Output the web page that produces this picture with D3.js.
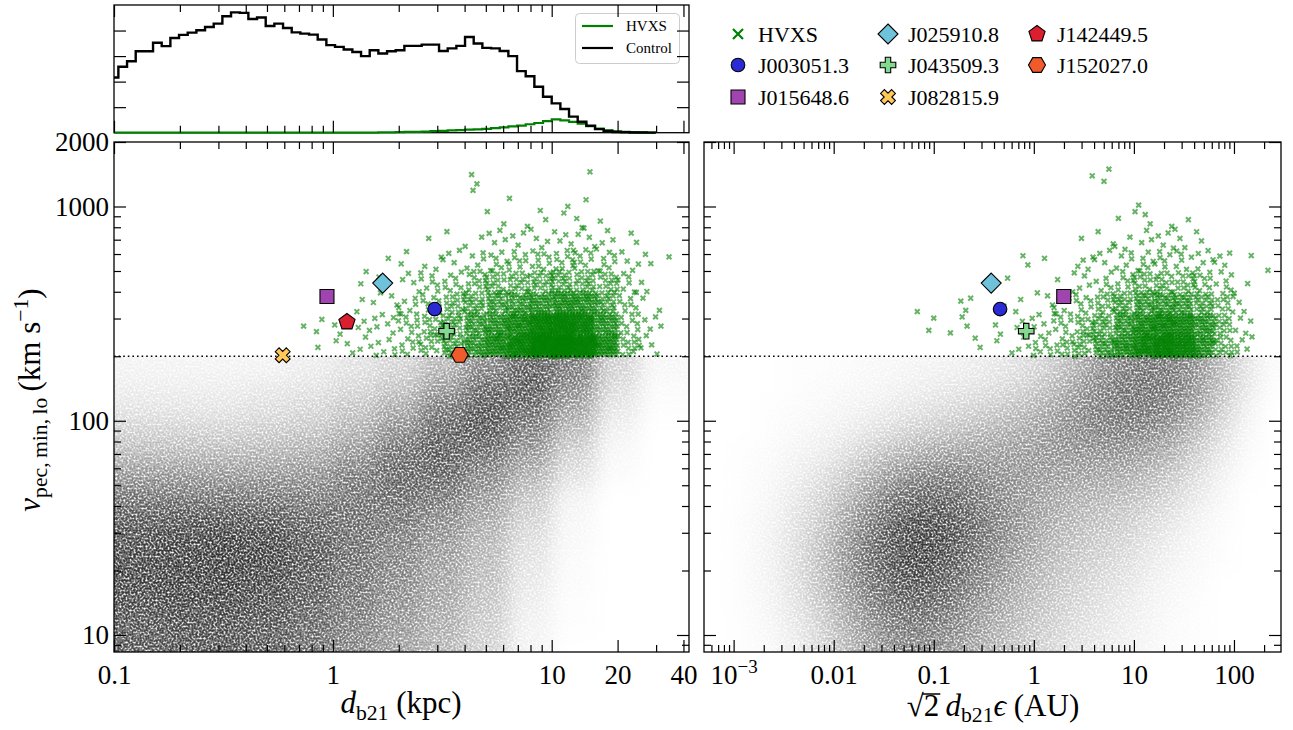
<!DOCTYPE html>
<html>
<head>
<meta charset="utf-8">
<script src="https://cdn.jsdelivr.net/npm/d3@7"></script>
<style>
  body { margin: 0; background: #fff; }
  text { font-family: "Liberation Serif", "Times New Roman", serif; fill: #000; }
</style>
</head>
<body>
<svg id="fig" width="1293" height="730" font-family="Liberation Serif, Times New Roman, serif"></svg>
<script>
// ---------- values ----------

// top histogram: log10 bin start / width, heights in axis units
const histStart = -1.0196, histWidth = 0.0396;
const controlHist = [2.16,2.58,2.80,3.19,3.19,3.52,3.39,3.71,3.83,3.92,4.01,
  4.14,4.27,4.56,4.71,4.69,4.45,4.51,4.18,4.27,4.10,
  3.93,3.88,3.84,3.65,3.43,3.36,3.26,3.16,3.00,3.23,
  3.10,3.19,3.23,3.40,3.40,3.45,3.45,3.20,3.30,3.40,
  3.75,3.49,3.32,3.30,3.20,3.00,2.41,2.21,1.80,1.41,
  1.15,0.93,0.63,0.43,0.27,0.14,0.07,0.03,0.015,0.01,0.005,0.003];
const hvxsHist = [0,0,0,0,0,0,0,0,0,0,0,0,0,0,0,0,0,0,0,0,0,0,0,0,0,0,0,0,0,0,
  0.005,0.01,0.015,0.02,0.03,0.035,0.045,0.06,0.075,0.09,0.10,
  0.12,0.13,0.15,0.18,0.21,0.25,0.28,0.33,0.38,0.45,
  0.52,0.48,0.42,0.35,0.26,0.16,0.09,0.05,0.03,0.02,0.01,0.005];

// grey control cloud: density per cell (log10 edges), rows from top
const grayRows = [2.3,2.2,2.1,2.0,1.9,1.8,1.7,1.6,1.5,1.4,1.3,1.2,1.1,1.0,0.9];
const leftGrayCols = [-1.0,-0.8,-0.6,-0.4,-0.2,0,0.2,0.4,0.6,0.8,1.0,1.2,1.4,1.6];
const leftGray = [
  [0.05,0.05,0.05,0.05,0.08,0.12,0.18,0.3,0.5,0.68,0.58,0.2,0.04],
  [0.08,0.08,0.08,0.1,0.12,0.18,0.26,0.44,0.66,0.72,0.5,0.15,0.02],
  [0.12,0.12,0.12,0.15,0.18,0.26,0.38,0.6,0.74,0.64,0.4,0.1,0.01],
  [0.2,0.2,0.2,0.22,0.25,0.34,0.5,0.68,0.72,0.55,0.3,0.06,0],
  [0.3,0.3,0.3,0.32,0.36,0.45,0.62,0.7,0.62,0.45,0.2,0.03,0],
  [0.44,0.44,0.44,0.44,0.46,0.56,0.66,0.66,0.52,0.35,0.14,0.02,0],
  [0.58,0.58,0.58,0.58,0.56,0.6,0.64,0.6,0.45,0.25,0.06,0,0],
  [0.7,0.72,0.72,0.7,0.65,0.62,0.6,0.5,0.38,0.2,0.04,0,0],
  [0.75,0.78,0.8,0.78,0.7,0.62,0.55,0.45,0.32,0.15,0.03,0,0],
  [0.78,0.8,0.82,0.8,0.72,0.62,0.52,0.42,0.3,0.12,0.02,0,0],
  [0.78,0.8,0.8,0.78,0.7,0.6,0.5,0.4,0.28,0.1,0.02,0,0],
  [0.75,0.78,0.78,0.75,0.68,0.58,0.48,0.38,0.25,0.08,0.01,0,0],
  [0.72,0.75,0.75,0.72,0.65,0.55,0.45,0.35,0.22,0.06,0.01,0,0],
  [0.7,0.72,0.72,0.7,0.62,0.52,0.42,0.32,0.2,0.05,0,0,0]
];
const rightGrayCols = [-3.25,-3.0,-2.75,-2.5,-2.25,-2.0,-1.75,-1.5,-1.25,-1.0,-0.75,-0.5,-0.25,
  0,0.25,0.5,0.75,1.0,1.25,1.5,1.75,2.0,2.25,2.5];
const rightGray = [
  [0,0,0,0.01,0.01,0.02,0.03,0.04,0.05,0.06,0.08,0.1,0.14,0.2,0.3,0.45,0.55,0.6,0.58,0.48,0.3,0.12,0.02],
  [0,0,0,0.01,0.02,0.03,0.04,0.06,0.08,0.1,0.12,0.15,0.2,0.28,0.4,0.52,0.6,0.62,0.58,0.46,0.28,0.1,0.01],
  [0,0,0.01,0.02,0.03,0.05,0.07,0.1,0.13,0.16,0.2,0.24,0.3,0.38,0.48,0.56,0.6,0.6,0.54,0.4,0.22,0.06,0],
  [0,0,0.01,0.03,0.05,0.08,0.12,0.17,0.22,0.26,0.3,0.34,0.38,0.44,0.5,0.55,0.56,0.52,0.44,0.3,0.15,0.04,0],
  [0,0.01,0.02,0.05,0.08,0.14,0.22,0.3,0.36,0.4,0.42,0.42,0.44,0.46,0.48,0.48,0.46,0.42,0.34,0.22,0.1,0.02,0],
  [0,0.01,0.03,0.07,0.13,0.22,0.34,0.45,0.52,0.55,0.52,0.48,0.46,0.44,0.42,0.4,0.38,0.32,0.25,0.15,0.06,0.01,0],
  [0,0.01,0.04,0.1,0.18,0.3,0.45,0.6,0.66,0.66,0.6,0.52,0.45,0.4,0.36,0.33,0.3,0.25,0.18,0.1,0.04,0,0],
  [0,0.02,0.05,0.12,0.22,0.38,0.55,0.7,0.76,0.74,0.65,0.55,0.46,0.38,0.32,0.28,0.24,0.18,0.12,0.06,0.02,0,0],
  [0,0.02,0.06,0.14,0.26,0.44,0.62,0.76,0.8,0.76,0.66,0.54,0.44,0.35,0.28,0.24,0.2,0.14,0.08,0.04,0.01,0,0],
  [0,0.02,0.06,0.15,0.28,0.46,0.64,0.76,0.8,0.74,0.62,0.5,0.4,0.32,0.25,0.2,0.16,0.1,0.06,0.03,0.01,0,0],
  [0,0.02,0.06,0.14,0.27,0.44,0.6,0.72,0.75,0.68,0.57,0.45,0.36,0.28,0.22,0.17,0.13,0.08,0.04,0.02,0,0,0],
  [0,0.02,0.05,0.12,0.24,0.4,0.55,0.65,0.68,0.62,0.5,0.4,0.32,0.25,0.19,0.14,0.1,0.06,0.03,0.01,0,0,0],
  [0,0.01,0.04,0.1,0.2,0.35,0.48,0.58,0.6,0.55,0.45,0.36,0.28,0.22,0.16,0.12,0.08,0.05,0.02,0.01,0,0,0],
  [0,0.01,0.03,0.08,0.17,0.3,0.42,0.5,0.52,0.48,0.4,0.32,0.25,0.19,0.14,0.1,0.07,0.04,0.02,0.01,0,0,0]
];

// HVXS crosses: number of points per cell, rows from top
const greenRows = [3.2,3.1,3.0,2.9,2.8,2.7,2.6,2.5,2.4,2.3];
const leftGreenCols = [-0.4,-0.3,-0.2,-0.1,0,0.1,0.2,0.3,0.4,0.5,0.6,0.7,0.8,0.9,1.0,1.1,1.2,1.3,1.4,1.5,1.6];
const leftGreen = [
  [0,0,0,0,0,0,0,0,0,0,2,0,0,0,0,1,0,0,0,0],
  [0,0,0,0,0,0,0,0,0,0,1,0,1,0,1,1,0,0,0,0],
  [0,0,0,0,0,0,0,0,0,0,0,2,1,2,1,2,1,0,0,0],
  [0,0,0,0,0,0,0,0,1,1,2,4,3,4,4,4,4,2,0,0],
  [0,0,0,0,0,0,1,2,3,4,5,7,8,9,10,9,7,4,2,1],
  [0,0,0,0,0,2,2,4,7,8,12,14,16,18,20,18,13,6,2,0],
  [0,0,0,0,0,3,3,6,9,14,20,26,32,38,45,40,24,8,2,0],
  [0,0,1,2,2,4,6,9,12,20,30,40,55,75,85,70,38,10,4,0],
  [0,0,0,1,3,4,5,8,12,22,35,52,72,105,115,95,52,14,4,0]
];
const rightGreenCols = [-1.2,-1.0,-0.8,-0.6,-0.4,-0.2,0,0.2,0.4,0.6,0.8,1.0,1.2,1.4,1.6,1.8,2.0,2.2,2.4];
const rightGreen = [
  [0,0,0,0,0,0,0,0,1,2,0,0,0,0,0,0,0,0],
  [0,0,0,0,0,0,0,0,0,0,0,1,0,0,0,0,0,0],
  [0,0,0,0,0,0,0,0,0,0,1,3,1,1,0,0,0,0],
  [0,0,0,0,0,0,0,0,1,2,3,3,4,3,2,0,0,0],
  [0,0,0,0,0,2,1,0,4,4,5,6,6,6,5,4,1,1],
  [0,0,0,1,1,0,0,2,4,6,8,12,14,12,10,6,1,0],
  [1,0,3,0,1,2,3,5,8,12,18,26,30,28,20,10,3,0],
  [2,1,2,0,2,4,5,8,12,18,30,45,55,50,35,15,4,0],
  [0,0,0,2,2,4,8,10,15,25,40,60,75,65,40,15,5,0]
];

// named sources
const srcNames = ["J003051.3","J015648.6","J025910.8","J043509.3","J082815.9","J142449.5","J152027.0"];
const srcDist  = [2.92, 0.94, 1.69, 3.31, 0.59, 1.16, 3.80];     // kpc
const srcVel   = [332, 380, 439, 262, 202, 289, 203];             // km/s
const srcSep   = [0.46, 1.99, 0.375, 0.84, null, null, null];     // AU

// ticks
const leftMajor = [0.1, 1, 10, 20, 40];
const leftMajorLabels = ["0.1", "1", "10", "20", "40"];
const rightMajor = [1e-3, 1e-2, 0.1, 1, 10, 100];
const rightMajorLabels = ["10", "0.01", "0.1", "1", "10", "100"];
const yMajor = [10, 100, 1000, 2000];
const yMajorLabels = ["10", "100", "1000", "2000"];

// ---------- styles ----------
const srcShape = ["circle", "square", "diamond", "plus", "xfill", "pentagon", "hexagon"];
const srcColor = ["#2b2bd6", "#a045b0", "#6ec3db", "#83da8f", "#ffc857", "#d91f30", "#f15a2a"];
const serif = '"Liberation Serif", "Times New Roman", serif';

const svg = d3.select("#fig");
const defs = svg.append("defs");

const xL = d3.scaleLog().domain([0.1, 42.4]).range([114, 689]);
const xR = d3.scaleLog().domain([Math.pow(10, -3.296), Math.pow(10, 2.47)]).range([704, 1281]);
const yV = d3.scaleLog().domain([8.33, 2000]).range([652, 142]);
const yH = d3.scaleLinear().domain([0, 5]).range([132.7, 5]);
const y200 = yV(200);

function clip(id, x, y, w, h) {
  defs.append("clipPath").attr("id", id).append("rect")
    .attr("x", x).attr("y", y).attr("width", w).attr("height", h);
}
clip("cHist", 114, 0, 575, 136);
clip("cL", 114, 142, 575, 510);
clip("cR", 704, 142, 577, 510);
clip("cLg", 114, y200, 575, 652 - y200);
clip("cRg", 704, y200, 577, 652 - y200);

// smooth the density cells, then break them into a grain like a dense scatter
const grain = defs.append("filter").attr("id", "grain").attr("filterUnits", "userSpaceOnUse")
  .attr("x", 0).attr("y", 0).attr("width", 1293).attr("height", 730);
grain.append("feGaussianBlur").attr("in", "SourceGraphic").attr("stdDeviation", 10).attr("result", "b");
grain.append("feTurbulence").attr("type", "fractalNoise").attr("baseFrequency", 0.5)
  .attr("numOctaves", 1).attr("seed", 7).attr("result", "n");
grain.append("feColorMatrix").attr("in", "n").attr("type", "matrix")
  .attr("values", "0 0 0 0 0  0 0 0 0 0  0 0 0 0 0  2.6 0 0 0 -0.55").attr("result", "m");
grain.append("feComposite").attr("in", "b").attr("in2", "m").attr("operator", "in");

// grey density cloud
function drawGray(xs, cols, grid, clipId) {
  const g = svg.append("g").attr("clip-path", `url(#${clipId})`)
    .append("g").attr("filter", "url(#grain)");
  const nr = grid.length, nc = cols.length - 1;
  grid.forEach((row, i) => row.forEach((v, j) => {
    if (v <= 0) return;
    let xa = xs(Math.pow(10, cols[j])), xb = xs(Math.pow(10, cols[j + 1]));
    let ya = yV(Math.pow(10, grayRows[i])), yb = yV(Math.pow(10, grayRows[i + 1]));
    if (j === 0) xa -= 30;
    if (j === nc - 1) xb += 30;
    if (i === 0) ya -= 30;
    if (i === nr - 1) yb += 30;
    g.append("rect").attr("x", xa).attr("y", ya)
      .attr("width", xb - xa).attr("height", yb - ya)
      .attr("fill", "#000").attr("fill-opacity", v);
  }));
}

// HVXS crosses, spread over each cell
const xMark = "M-2.4,-2.4L2.4,2.4M-2.4,2.4L2.4,-2.4";
function drawGreen(xs, cols, grid, clipId) {
  const g = svg.append("g").attr("clip-path", `url(#${clipId})`);
  grid.forEach((row, i) => row.forEach((n, j) => {
    const xa = xs(Math.pow(10, cols[j])), xb = xs(Math.pow(10, cols[j + 1]));
    const ya = yV(Math.pow(10, greenRows[i])), yb = yV(Math.pow(10, greenRows[i + 1]));
    for (let k = 0; k < n; k++) {
      const t = k + 1 + (i * 31 + j) * 17;
      const u = (0.5 + t * 0.7548776662) % 1, w = (0.5 + t * 0.5698402910) % 1;
      g.append("path").attr("d", xMark)
        .attr("transform", `translate(${xa + u * (xb - xa)},${ya + w * (yb - ya)})`)
        .attr("stroke", "#008000").attr("stroke-width", 2).attr("stroke-opacity", 0.6)
        .attr("fill", "none");
    }
  }));
}

drawGray(xL, leftGrayCols, leftGray, "cLg");
drawGray(xR, rightGrayCols, rightGray, "cRg");
drawGreen(xL, leftGreenCols, leftGreen, "cL");
drawGreen(xR, rightGreenCols, rightGreen, "cR");

// 200 km/s line
[[114, 689], [704, 1281]].forEach(r => {
  svg.append("line").attr("x1", r[0]).attr("x2", r[1]).attr("y1", y200).attr("y2", y200)
    .attr("stroke", "#000").attr("stroke-width", 1.6).attr("stroke-dasharray", "1.6,3");
});

// marker shapes
function shapePath(type) {
  const p = (pts) => "M" + pts.map(q => q.join(",")).join("L") + "Z";
  const poly = (n, r, a0) => d3.range(n).map(i => {
    const a = a0 + i * 2 * Math.PI / n;
    return [r * Math.cos(a), r * Math.sin(a)];
  });
  const cross = (a, w) => [[-w, -a], [w, -a], [w, -w], [a, -w], [a, w], [w, w], [w, a], [-w, a], [-w, w], [-a, w], [-a, -w], [-w, -w]];
  switch (type) {
    case "circle": return d3.symbol(d3.symbolCircle, Math.PI * 6.8 * 6.8)();
    case "square": return p([[-7, -7], [7, -7], [7, 7], [-7, 7]]);
    case "diamond": return p([[0, -10], [10, 0], [0, 10], [-10, 0]]);
    case "pentagon": return p(poly(5, 8.5, -Math.PI / 2));
    case "hexagon": return p(poly(6, 8.5, 0));
    case "plus": return p(cross(7.8, 2.7));
    case "xfill": {
      const c = Math.SQRT1_2;
      return p(cross(7.8, 2.7).map(q => [(q[0] - q[1]) * c, (q[0] + q[1]) * c]));
    }
  }
}

function drawSources(xs, xv, clipId) {
  const g = svg.append("g").attr("clip-path", `url(#${clipId})`);
  srcNames.forEach((nm, i) => {
    if (xv[i] == null) return;
    g.append("path").attr("d", shapePath(srcShape[i]))
      .attr("transform", `translate(${xs(xv[i])},${yV(srcVel[i])})`)
      .attr("fill", srcColor[i]).attr("stroke", "#000").attr("stroke-width", 1.1);
  });
}
drawSources(xL, srcDist, "cL");
drawSources(xR, srcSep, "cR");

// ---------- top histogram ----------
svg.append("rect").attr("x", 114).attr("y", 5).attr("width", 575).attr("height", 127.7)
  .attr("fill", "none").attr("stroke", "#000").attr("stroke-width", 1.3);

function stepPts(h) {
  const e = (k) => Math.pow(10, histStart + histWidth * k);
  const pts = [[e(0), 0]];
  h.forEach((v, i) => { pts.push([e(i), v]); pts.push([e(i + 1), v]); });
  pts.push([e(h.length), 0]);
  return pts;
}
const histLine = d3.line().x(d => xL(d[0])).y(d => yH(d[1]));
const hg = svg.append("g").attr("clip-path", "url(#cHist)");
hg.append("path").attr("d", histLine(stepPts(hvxsHist)))
  .attr("fill", "none").attr("stroke", "#008000").attr("stroke-width", 2.2);
hg.append("path").attr("d", histLine(stepPts(controlHist)))
  .attr("fill", "none").attr("stroke", "#000").attr("stroke-width", 2.4);

// histogram legend
svg.append("rect").attr("x", 575.5).attr("y", 13.5).attr("width", 104).attr("height", 50).attr("rx", 4)
  .attr("fill", "#fff").attr("fill-opacity", 0.8).attr("stroke", "#cccccc").attr("stroke-width", 1);
[["HVXS", "#008000", 26], ["Control", "#000", 48]].forEach(d => {
  svg.append("line").attr("x1", 582).attr("x2", 613).attr("y1", d[2]).attr("y2", d[2])
    .attr("stroke", d[1]).attr("stroke-width", 2.2);
  svg.append("text").attr("x", 626).attr("y", d[2] + 5).attr("font-family", serif)
    .attr("font-size", 15).text(d[0]);
});

// ---------- axes ----------
const decades = (lo, hi) => d3.range(lo, hi + 1).flatMap(p => [2, 3, 4, 5, 6, 7, 8, 9].map(m => m * Math.pow(10, p)));
const leftMinor = decades(-1, 1).filter(v => v < 40 && v !== 20 && v !== 10);
const rightMinor = decades(-4, 2).filter(v => v > 5.2e-4 && v < 290);
const yMinor = decades(0, 2).filter(v => v > 8.4 && v < 1000);

function axisG(gen, transform, vals, len, fmt, pad) {
  const g = svg.append("g").attr("transform", transform)
    .call(gen.tickValues(vals).tickSize(-len).tickPadding(pad || 13)
      .tickFormat(fmt || (() => "")));
  g.select(".domain").remove();
  g.attr("font-family", serif).attr("font-size", 27);
  g.selectAll("line").attr("stroke-width", 1.2);
  return g;
}

// left panel
axisG(d3.axisBottom(xL), "translate(0,652)", leftMajor, 12, (d, i) => leftMajorLabels[i]);
axisG(d3.axisBottom(xL), "translate(0,652)", leftMinor, 7);
axisG(d3.axisTop(xL), "translate(0,142)", leftMajor, 12);
axisG(d3.axisTop(xL), "translate(0,142)", leftMinor, 7);
axisG(d3.axisLeft(yV), "translate(114,0)", yMajor, 12, (d, i) => yMajorLabels[i], 5);
axisG(d3.axisLeft(yV), "translate(114,0)", yMinor, 7);
axisG(d3.axisRight(yV), "translate(689,0)", yMajor, 12);
axisG(d3.axisRight(yV), "translate(689,0)", yMinor, 7);

// right panel
const rb = axisG(d3.axisBottom(xR), "translate(0,652)", rightMajor, 12, (d, i) => rightMajorLabels[i]);
rb.selectAll("text").filter(d => d === 1e-3).append("tspan")
  .attr("font-size", 19).attr("dy", -11).text("\u22123");
axisG(d3.axisBottom(xR), "translate(0,652)", rightMinor, 7);
axisG(d3.axisTop(xR), "translate(0,142)", rightMajor, 12);
axisG(d3.axisTop(xR), "translate(0,142)", rightMinor, 7);
axisG(d3.axisLeft(yV), "translate(704,0)", yMajor, 12);
axisG(d3.axisLeft(yV), "translate(704,0)", yMinor, 7);
axisG(d3.axisRight(yV), "translate(1281,0)", yMajor, 12);
axisG(d3.axisRight(yV), "translate(1281,0)", yMinor, 7);

// histogram axes
axisG(d3.axisTop(xL), "translate(0,5)", leftMajor, 12);
axisG(d3.axisTop(xL), "translate(0,5)", leftMinor, 7);
axisG(d3.axisBottom(xL), "translate(0,132.7)", leftMajor, 12);
axisG(d3.axisBottom(xL), "translate(0,132.7)", leftMinor, 7);
axisG(d3.axisLeft(yH), "translate(114,0)", [1, 2, 3, 4], 12);
axisG(d3.axisRight(yH), "translate(689,0)", [1, 2, 3, 4], 12);

// frames
[[114, 689], [704, 1281]].forEach(r => {
  svg.append("rect").attr("x", r[0]).attr("y", 142).attr("width", r[1] - r[0]).attr("height", 510)
    .attr("fill", "none").attr("stroke", "#000").attr("stroke-width", 1.3);
});

// ---------- axis labels ----------
const xl = svg.append("text").attr("x", 401).attr("y", 713).attr("text-anchor", "middle")
  .attr("font-family", serif).attr("font-size", 31);
xl.append("tspan").attr("font-style", "italic").text("d");
xl.append("tspan").attr("font-size", 21.7).attr("dy", 7).text("b21");
xl.append("tspan").attr("dy", -7).text(" (kpc)");

const xr = svg.append("text").attr("x", 993).attr("y", 716).attr("text-anchor", "middle")
  .attr("font-family", serif).attr("font-size", 31);
xr.append("tspan").text("\u221a");
xr.append("tspan").text("2");
xr.append("tspan").text("\u2009");
xr.append("tspan").attr("font-style", "italic").text("d");
xr.append("tspan").attr("font-size", 21.7).attr("dy", 6).text("b21");
xr.append("tspan").attr("font-style", "italic").attr("dy", -6).text("\u03f5");
xr.append("tspan").text(" (AU)");
{
  const n = xr.node();
  const a = n.getEndPositionOfChar(0), b = n.getEndPositionOfChar(1);
  svg.append("line").attr("x1", a.x - 1.5).attr("x2", b.x + 1)
    .attr("y1", 694).attr("y2", 694).attr("stroke", "#000").attr("stroke-width", 1.5);
}

const yl = svg.append("text").attr("transform", "translate(40,400) rotate(-90)")
  .attr("text-anchor", "middle").attr("font-family", serif).attr("font-size", 31);
yl.append("tspan").attr("font-style", "italic").text("v");
yl.append("tspan").attr("font-size", 21.7).attr("dy", 7).text("pec,\u2009min,\u2009lo");
yl.append("tspan").attr("dy", -7).text("\u2009(km s");
yl.append("tspan").attr("font-size", 21.7).attr("dy", -12).text("\u22121");
yl.append("tspan").attr("dy", 12).text(")");

// ---------- main legend ----------
const legendCol = [738, 888, 1037], legendRow = [34, 65, 97];
const legendItems = ["HVXS"].concat(srcNames);
legendItems.forEach((nm, k) => {
  const cx = legendCol[Math.floor(k / 3)], cy = legendRow[k % 3];
  if (k === 0) {
    svg.append("path").attr("d", "M-5,-5L5,5M-5,5L5,-5").attr("transform", `translate(${cx},${cy})`)
      .attr("stroke", "#008000").attr("stroke-width", 2.2).attr("fill", "none");
  } else {
    svg.append("path").attr("d", shapePath(srcShape[k - 1])).attr("transform", `translate(${cx},${cy})`)
      .attr("fill", srcColor[k - 1]).attr("stroke", "#000").attr("stroke-width", 1.1);
  }
  svg.append("text").attr("x", cx + 20).attr("y", cy + 8).attr("font-family", serif)
    .attr("font-size", 22).text(nm);
});
</script>
</body>
</html>
